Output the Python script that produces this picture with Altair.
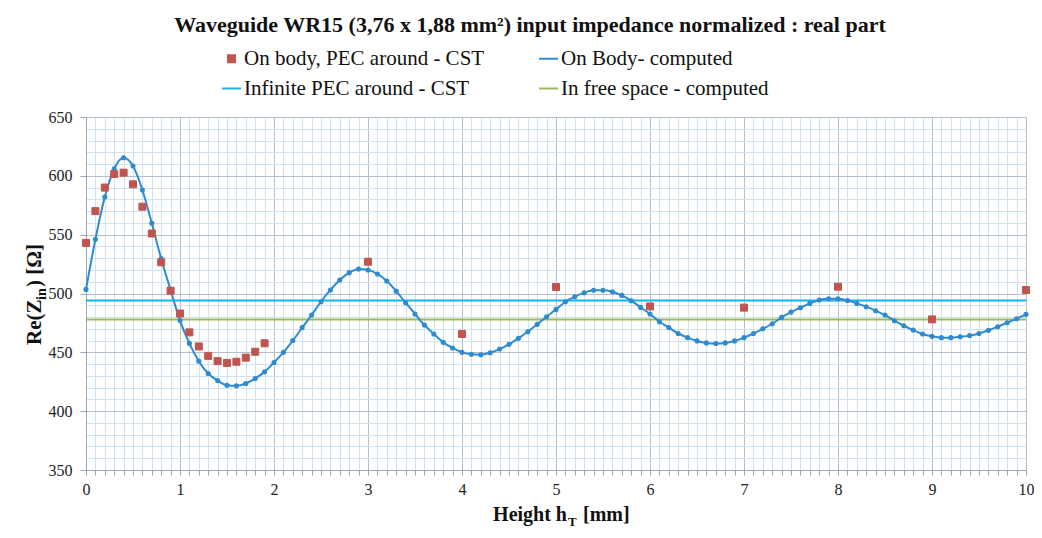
import altair as alt
import pandas as pd

# ---------------- data ----------------
series_names = [
    "On body, PEC around - CST",
    "On Body- computed",
    "Infinite PEC around - CST",
    "In free space - computed",
]
series_colors = ["#c0554f", "#2e8bd0", "#14b4ec", "#9bbb59"]

# computed curve, every 0.1 mm from 0 to 10 mm
h_computed = [round(i * 0.1, 1) for i in range(101)]
re_computed = [
    503.5, 546.0, 582.0, 606.0, 615.4, 608.4, 588.0, 559.7, 529.6, 503.0,
    477.0, 457.6, 442.5, 432.0, 426.0, 422.0, 421.5, 423.5, 427.8, 433.4,
    441.4, 450.0, 460.0, 471.0, 481.7, 493.0, 503.0, 511.5, 517.7, 520.8,
    520.0, 516.6, 510.6, 502.0, 492.2, 482.6, 473.2, 465.6, 458.5, 453.7,
    450.0, 448.3, 448.0, 449.7, 452.8, 456.8, 461.9, 467.5, 473.8, 480.3,
    486.5, 493.0, 497.3, 500.7, 502.7, 502.7, 501.5, 498.4, 493.9, 488.2,
    482.6, 476.0, 471.0, 466.0, 462.5, 459.7, 458.0, 457.5, 458.0, 459.7,
    462.5, 466.0, 470.0, 474.3, 479.7, 484.2, 487.9, 491.6, 494.5, 495.6,
    495.6, 494.0, 491.6, 488.8, 485.4, 481.7, 476.9, 472.6, 468.9, 465.6,
    463.6, 462.5, 462.5, 463.3, 464.2, 466.0, 468.7, 471.8, 475.2, 478.6,
    482.3,
]

# CST simulation points
h_cst = [0.0, 0.1, 0.2, 0.3, 0.4, 0.5, 0.6, 0.7, 0.8, 0.9,
         1.0, 1.1, 1.2, 1.3, 1.4, 1.5, 1.6, 1.7, 1.8, 1.9,
         3.0, 4.0, 5.0, 6.0, 7.0, 8.0, 9.0, 10.0]
re_cst = [543.0, 570.0, 590.0, 601.6, 602.7, 592.8, 573.8, 551.0, 526.5, 502.4,
          483.0, 467.0, 455.0, 447.0, 442.5, 441.0, 442.0, 445.5, 450.5, 457.7,
          527.0, 465.6, 505.5, 489.0, 488.0, 505.8, 478.0, 503.0]

# constant reference levels
level_names = ["Infinite PEC around - CST", "In free space - computed"]
level_values = [494.0, 478.0]

x_ticks = [round(i * 0.1, 1) for i in range(101)]
y_ticks = list(range(350, 651, 10))

title_text = "Waveguide WR15 (3,76 x 1,88 mm\u00b2) input impedance normalized : real part"

# ---------------- tables ----------------
df_comp = pd.DataFrame({"h": h_computed, "re": re_computed, "series": series_names[1]})
df_cst = pd.DataFrame({"h": h_cst, "re": re_cst, "series": series_names[0]})
df_lvl = pd.DataFrame({"re": level_values, "series": level_names})

FONT = "Liberation Serif"
MAJOR = "#b3bfcb"
MINOR = "#cfe2f3"

int_test = "abs(datum.value - round(datum.value)) < 1e-6"
x_axis = alt.Axis(
    values=x_ticks, title=None, labelFont=FONT, labelFontSize=16, labelColor="#222",
    labelExpr=f"{int_test} ? format(round(datum.value), 'd') : ''",
    labelOverlap=False, labelFlush=False, labelPadding=6,
    grid=True,
    gridColor={"condition": {"test": int_test, "value": MAJOR}, "value": MINOR},
    gridWidth=1,
    tickColor="#9aa6b2", tickSize=5,
    domainColor="#9aa6b2",
)
y_axis = alt.Axis(
    values=y_ticks, title=None, labelFont=FONT, labelFontSize=16, labelColor="#222",
    labelExpr="datum.value % 50 === 0 ? datum.label : ''",
    labelOverlap=False, labelFlush=False, labelPadding=8,
    grid=True,
    gridColor={"condition": {"test": "datum.value % 50 === 0", "value": MAJOR}, "value": MINOR},
    gridWidth=1,
    tickColor="#9aa6b2",
    tickSize={"condition": {"test": "datum.value % 50 === 0", "value": 6}, "value": 0},
    domainColor="#9aa6b2",
)

xs = alt.Scale(domain=[0, 10], nice=False, zero=False)
ys = alt.Scale(domain=[350, 650], nice=False, zero=False)

legend = alt.Legend(
    title=None, orient="none", legendX=135, legendY=-69, columns=2, direction="horizontal",
    labelFont=FONT, labelFontSize=21, labelColor="#111", labelOffset=2, labelLimit=0,
    columnPadding=50, rowPadding=8, padding=0,
    symbolStrokeWidth=2, symbolOpacity=1,
)

color_enc = alt.Color("series:N", scale=alt.Scale(domain=series_names, range=series_colors), legend=legend)

x_enc = alt.X("h:Q", scale=xs, axis=x_axis)
y_enc = alt.Y("re:Q", scale=ys, axis=y_axis)

levels = alt.Chart(df_lvl).mark_rule(strokeWidth=2).encode(
    y=y_enc, color=color_enc
)

curve = alt.Chart(df_comp).mark_line(strokeWidth=2, interpolate="monotone").encode(
    x=x_enc, y=y_enc, color=color_enc
)

dots = alt.Chart(df_comp).mark_point(filled=True, opacity=1).encode(
    x=x_enc, y=y_enc, color=color_enc,
    shape=alt.value("circle"), size=alt.value(26),
)

squares = alt.Chart(df_cst).mark_point(filled=True, opacity=1, strokeWidth=1).encode(
    x=x_enc, y=y_enc,
    color=color_enc,
    stroke=alt.Stroke("series:N", scale=alt.Scale(domain=series_names, range=series_colors), legend=legend),
    shape=alt.Shape("series:N", scale=alt.Scale(domain=series_names, range=["square", "stroke", "stroke", "stroke"]), legend=legend),
    size=alt.Size("series:N", scale=alt.Scale(type="ordinal", domain=series_names, range=[49, 361, 361, 361]), legend=legend),
)

one = pd.DataFrame({"a": [0]})


def txt(text, x, y, size, bold=True, angle=0, align="left", baseline="alphabetic"):
    kw = dict(font=FONT, fontSize=size, fontWeight="bold" if bold else "normal",
              align=align, baseline=baseline, color="#111")
    if angle:
        kw["angle"] = angle
    return alt.Chart(one).mark_text(**kw).encode(
        x=alt.value(x), y=alt.value(y), text=alt.value(text)
    )


title = txt(title_text, 444, -85, 22, align="center")
xt1 = txt("Height h", 481, 404, 20, align="right")
xt2 = txt("T", 482, 409, 13, align="left")
xt3 = txt("[mm]", 497, 404, 20, align="left")
yt1 = txt("Re(Z", -45, 228, 21, angle=270, align="left")
yt2 = txt("in", -40, 183, 14, angle=270, align="left")
yt3 = txt(") [\u03a9]", -45, 170, 21, angle=270, align="left")

chart = alt.layer(
    levels, curve, dots, squares, title, xt1, xt2, xt3, yt1, yt2, yt3
).properties(
    width=940, height=353,
    padding={"left": 78, "top": 109, "right": 8, "bottom": 60},
    autosize=alt.AutoSizeParams(type="none"),
    background="white",
).configure_view(stroke=None).configure(font=FONT)

chart.save("out.html", embed_options={"renderer": "svg", "actions": False})
